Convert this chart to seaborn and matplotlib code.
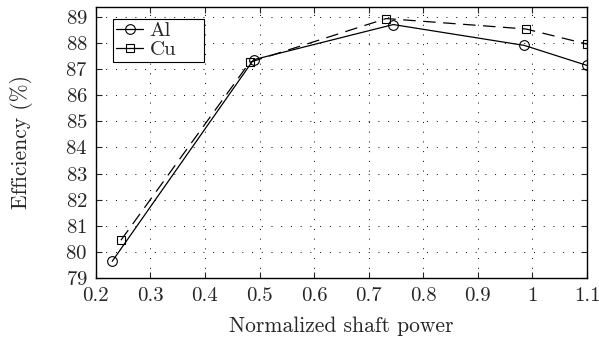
import numpy as np
import matplotlib
matplotlib.use("Agg")
import matplotlib.pyplot as plt
import seaborn as sns
import pandas as pd

al_power = [0.23, 0.489, 0.745, 0.985, 1.1]
al_eff = [79.63, 87.37, 88.72, 87.92, 87.15]
cu_power = [0.246, 0.482, 0.732, 0.988, 1.1]
cu_eff = [80.44, 87.27, 88.95, 88.55, 87.97]

df = pd.concat([
    pd.DataFrame({'power': al_power, 'eff': al_eff, 'metal': 'Al'}),
    pd.DataFrame({'power': cu_power, 'eff': cu_eff, 'metal': 'Cu'}),
])

sns.set_style("ticks")
plt.rcParams['font.family'] = ['cmr10', 'DejaVu Serif']
plt.rcParams['axes.formatter.use_mathtext'] = True
plt.rcParams['mathtext.fontset'] = 'cm'

TICK_SIZE = 15
LABEL_SIZE = 15.5

fig = plt.figure(figsize=(5.99, 3.42), dpi=100)
ax = fig.add_axes([0.160, 0.188, 0.820, 0.792])

sns.lineplot(data=df, x='power', y='eff', hue='metal', style='metal',
             palette=['black', 'black'], markers={'Al': 'o', 'Cu': 's'},
             dashes={'Al': '', 'Cu': (10, 6)}, linewidth=0.9,
             markersize=7, markerfacecolor='none', markeredgecolor='black',
             markeredgewidth=0.8, ax=ax)

# squares look a bit smaller than the circles
for line in ax.lines:
    if line.get_marker() == 's':
        line.set_markersize(5.5)

ax.set_xlim(0.2, 1.1)
ax.set_ylim(79, 89.4)
ax.set_xticks(np.arange(0.2, 1.11, 0.1))
ax.set_xticklabels(['0.2', '0.3', '0.4', '0.5', '0.6', '0.7', '0.8', '0.9', '1', '1.1'])
ax.set_yticks(np.arange(79, 90, 1))
ax.tick_params(direction='in', top=True, right=True, labelsize=TICK_SIZE, length=4, width=0.8)
ax.tick_params(axis='x', pad=7)
ax.tick_params(axis='y', pad=6)
for s in ax.spines.values():
    s.set_linewidth(1.0)
    s.set_color('black')
ax.grid(True, color='black', linestyle=(0, (1, 9)), linewidth=0.7)

ax.set_xlabel('Normalized shaft power', fontsize=LABEL_SIZE)
ax.set_ylabel('Efficiency (%)', fontsize=LABEL_SIZE)
ax.xaxis.set_label_coords(0.5, -0.145)
ax.yaxis.set_label_coords(-0.128, 0.5)

leg = ax.legend(loc='upper left', bbox_to_anchor=(0.035, 0.80, 0.185, 0.156),
                mode='expand', fontsize=TICK_SIZE,
                frameon=True, fancybox=False, edgecolor='black', framealpha=1,
                handlelength=1.3, handletextpad=0.3, borderpad=0.15,
                labelspacing=0.0, borderaxespad=0)
leg.get_frame().set_linewidth(0.8)
for h in leg.get_lines():
    h.set_linestyle('-')

fig.savefig('out.png', dpi=100)
